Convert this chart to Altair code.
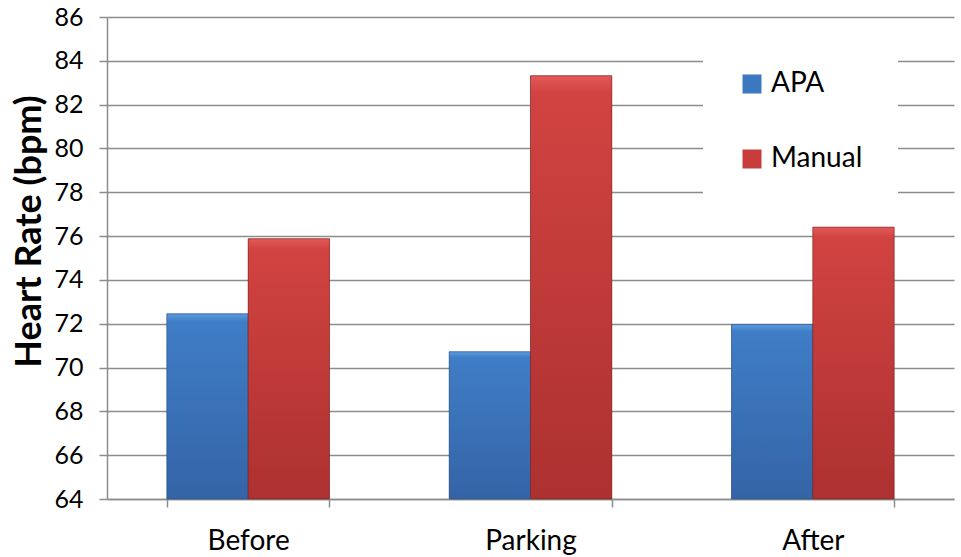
import altair as alt
import pandas as pd

phases = ["Before", "Parking", "After"]
series = ["APA", "Manual"]
apa_values = [72.45, 70.72, 71.96]
manual_values = [75.88, 83.32, 76.41]
y_ticks = [64, 66, 68, 70, 72, 74, 76, 78, 80, 82, 84, 86]

rows = []
for p, a, m in zip(phases, apa_values, manual_values):
    rows.append({"phase": p, "series": "APA", "hr": a})
    rows.append({"phase": p, "series": "Manual", "hr": m})
df = pd.DataFrame(rows)

FONT = "Lato"
GRID = "#8C8C8C"

x_enc = alt.X(
    "phase:N",
    sort=phases,
    title=None,
    scale=alt.Scale(paddingInner=0.424, paddingOuter=0.212),
    axis=alt.Axis(
        labelAngle=0,
        labelFont=FONT,
        labelFontSize=28,
        labelColor="#000000",
        labelPadding=20,
        tickBand="extent",
        tickSize=8,
        tickColor=GRID,
        domainColor=GRID,
        domainWidth=1.5,
        tickWidth=1.5,
        grid=False,
    ),
)
xo_enc = alt.XOffset("series:N", sort=series, scale=alt.Scale(domain=series, paddingInner=0, paddingOuter=0))
y_enc = alt.Y(
    "hr:Q",
    title="Heart Rate (bpm)",
    scale=alt.Scale(domain=[64, 86], zero=False, nice=False),
    axis=alt.Axis(
        values=y_ticks,
        labelFont=FONT,
        labelFontSize=25,
        labelColor="#000000",
        labelPadding=16,
        tickSize=8,
        tickColor=GRID,
        tickWidth=1.5,
        domainColor=GRID,
        domainWidth=1.5,
        grid=True,
        gridColor=GRID,
        gridWidth=1.5,
        titleFont=FONT,
        titleFontSize=36,
        titleFontWeight="bold",
        titleColor="#000000",
        titleAngle=270,
        titleAlign="center",
        titleBaseline="middle",
        titleX=-78,
        titleY=214,
    ),
)

base = alt.Chart(df).encode(x=x_enc, xOffset=xo_enc, y=y_enc, y2=alt.datum(64))

legend_bars = base.mark_bar().encode(
    color=alt.Color(
        "series:N",
        sort=series,
        title=None,
        scale=alt.Scale(domain=series, range=["#3C78C0", "#C83D3B"]),
        legend=alt.Legend(
            orient="none",
            legendX=596,
            legendY=18,
            fillColor="#FFFFFF",
            padding=35,
            symbolType="square",
            symbolSize=361,
            symbolStrokeWidth=0,
            labelFont=FONT,
            labelFontSize=28,
            labelColor="#000000",
            labelOffset=5,
            rowPadding=47,
        ),
    )
)

def grad(top, mid, bottom):
    return alt.LinearGradient(
        gradient="linear",
        x1=0, x2=0, y1=0, y2=1,
        stops=[
            alt.GradientStop(color=top, offset=0),
            alt.GradientStop(color=mid, offset=0.04),
            alt.GradientStop(color=bottom, offset=1),
        ],
    )

blue_bars = base.transform_filter(alt.datum.series == "APA").mark_bar(
    color=grad("#5C9BE0", "#3F7DC6", "#3464A6"), stroke="#2A4F80", strokeWidth=1, strokeOpacity=0.6
)
red_bars = base.transform_filter(alt.datum.series == "Manual").mark_bar(
    color=grad("#E25A58", "#D14341", "#AC3130"), stroke="#7A2020", strokeWidth=1, strokeOpacity=0.6
)

chart = (
    alt.layer(legend_bars, blue_bars, red_bars)
    .properties(
        width=847,
        height=482,
        autosize=alt.AutoSizeParams(type="none"),
        padding={"left": 107, "top": 17, "right": 7, "bottom": 58},
        background="#FFFFFF",
    )
    .configure_view(stroke=None)
)

chart.save("out.html", embed_options={"renderer": "svg", "actions": False})
